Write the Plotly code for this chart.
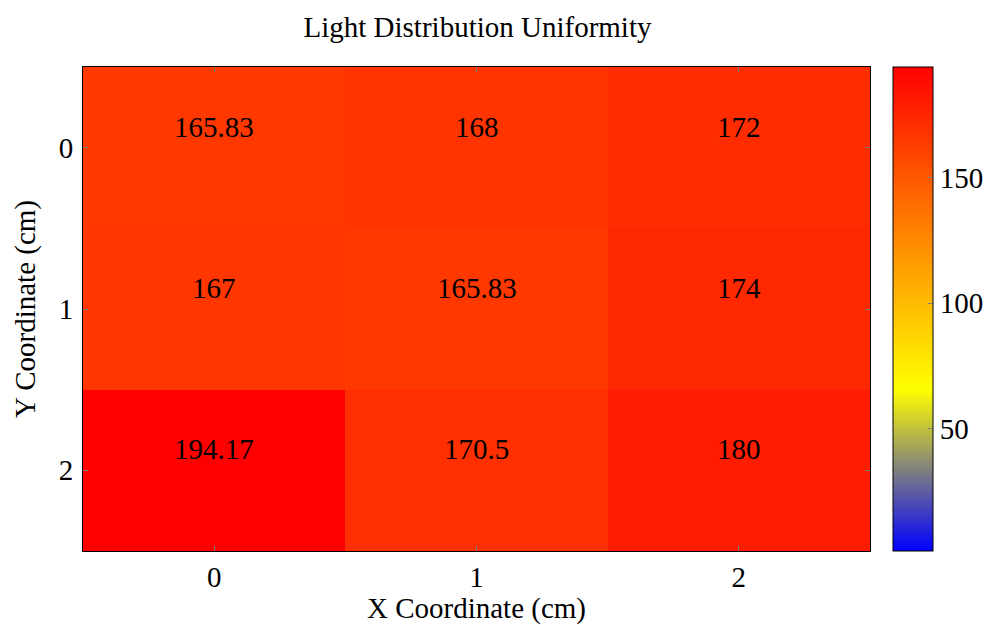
import plotly.graph_objects as go

x_labels = [0, 1, 2]
y_labels = [0, 1, 2]
row0 = [165.83, 168, 172]
row1 = [167, 165.83, 174]
row2 = [194.17, 170.5, 180]
z = [row0, row1, row2]

cmin = 1.2
cmax = 194.17

FONT = "Liberation Serif"
FS = 29
W, H = 987, 625
colorscale = [[0, "rgb(0,0,255)"], [1/3, "rgb(255,255,0)"], [2/3, "rgb(255,128,0)"], [1, "rgb(255,0,0)"]]

fig = go.Figure(go.Heatmap(
    x=x_labels, y=y_labels, z=z,
    colorscale=colorscale, zmin=cmin, zmax=cmax,
    colorbar=dict(thickness=40, len=1, lenmode="fraction",
                  xref="container", yref="paper",
                  x=893 / W, xanchor="left", xpad=0, ypad=0,
                  y=0.5, yanchor="middle",
                  outlinecolor="black", outlinewidth=1,
                  tickvals=[50, 100, 150], ticks="inside", ticklen=5, tickcolor="gray",
                  tickfont=dict(family=FONT, size=FS, color="black")),
    hoverinfo="skip",
))

# cell value labels (placed slightly above cell centre, as in the reference)
for yi, row in zip(y_labels, z):
    for xi, v in zip(x_labels, row):
        fig.add_annotation(x=xi, y=yi, xref="x", yref="y", text=f"{v:g}", showarrow=False,
                           yshift=21, font=dict(family=FONT, size=FS, color="black"))

fig.update_layout(
    width=W, height=H,
    margin=dict(l=83, r=117, t=67, b=74),
    paper_bgcolor="white", plot_bgcolor="white",
    title=dict(text="Light Distribution Uniformity", x=0.4838, xanchor="center", y=1 - 27 / H, yanchor="middle",
               font=dict(family=FONT, size=FS, color="black")),
    font=dict(family=FONT, size=FS, color="black"),
)
fig.update_xaxes(range=[-0.5, 2.5], tickvals=x_labels, ticks="inside", ticklen=5, tickcolor="gray",
                 showline=True, linecolor="black", linewidth=1, mirror="ticks", showgrid=False, zeroline=False,
                 automargin=False,
                 title=dict(text="X Coordinate (cm)", font=dict(family=FONT, size=FS), standoff=11),
                 tickfont=dict(family=FONT, size=FS))
fig.update_yaxes(range=[2.5, -0.5], tickvals=y_labels, ticks="inside", ticklen=5, tickcolor="gray",
                 showline=True, linecolor="black", linewidth=1, mirror="ticks", showgrid=False, zeroline=False,
                 automargin=False, ticklabelstandoff=3,
                 title=dict(text="Y Coordinate (cm)", font=dict(family=FONT, size=FS), standoff=14),
                 tickfont=dict(family=FONT, size=FS))

fig.write_html("out.html", config={"displayModeBar": False},
               post_script="document.body.style.margin='0';document.body.style.overflow='hidden';")
